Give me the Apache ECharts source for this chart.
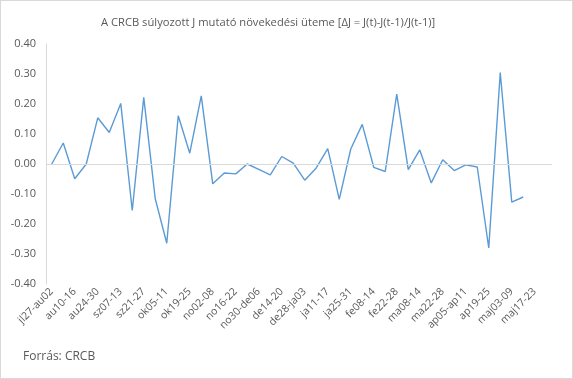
<!DOCTYPE html>
<html>
<head>
<meta charset="utf-8">
<script src="https://cdn.jsdelivr.net/npm/echarts@6/dist/echarts.min.js"></script>
<style>
html,body{margin:0;padding:0;background:#fff;}
#c{width:573px;height:379px;box-sizing:border-box;border:1px solid #d9d9d9;}
</style>
</head>
<body>
<div id="c"></div>
<script>
const titleText = 'A CRCB súlyozott J mutató növekedési üteme [ΔJ = J(t)-J(t-1)/J(t-1)]';
const sourceText = 'Forrás: CRCB';
const categories = ['jl27-au02','au03-09','au10-16','au17-23','au24-30','au31-sz06','sz07-13','sz14-20','sz21-27','sz28-ok04','ok05-11','ok12-18','ok19-25','ok26-no01','no02-08','no09-15','no16-22','no23-29','no30-de06','de07-13','de14-20','de21-27','de28-ja03','ja04-10','ja11-17','ja18-24','ja25-31','fe01-07','fe08-14','fe15-21','fe22-28','ma01-07','ma08-14','ma15-21','ma22-28','ma29-ap04','ap05-ap11','ap12-18','ap19-25','ap26-maj02','maj03-09','maj10-16','maj17-23','maj24-30'];
const values = [0.000,0.070,-0.049,0.000,0.154,0.105,0.202,-0.155,0.222,-0.116,-0.264,0.161,0.036,0.227,-0.066,-0.030,-0.033,0.000,-0.018,-0.036,0.025,0.003,-0.054,-0.013,0.051,-0.118,0.050,0.132,-0.011,-0.025,0.233,-0.019,0.047,-0.063,0.014,-0.022,-0.003,-0.010,-0.280,0.305,-0.127,-0.110,null,null];

const chart = echarts.init(document.getElementById('c'), null, {renderer:'canvas'});
const fontFam = '"Open Sans", "Noto Sans", sans-serif';
chart.setOption({
  animation:false,
  title:{text:titleText,left:95,top:11,textStyle:{fontFamily:fontFam,fontSize:11.2,fontWeight:'normal',color:'#595959'}},
  graphic:[{type:'text',left:22,top:350,style:{text:sourceText,font:'12px "Open Sans", sans-serif',fill:'#595959'}}],
  grid:{left:45,right:20,top:43,bottom:94,containLabel:false},
  xAxis:{type:'category',data:categories,boundaryGap:true,
    axisLine:{show:false,onZero:false},axisTick:{show:false},
    axisLabel:{interval:1,rotate:45,fontFamily:fontFam,fontSize:10.5,color:'#595959',margin:6}},
  yAxis:{type:'value',min:-0.4,max:0.4,interval:0.1,
    axisLine:{show:true,lineStyle:{color:'#d9d9d9',width:1}},axisTick:{show:false},
    splitLine:{show:false},
    axisLabel:{formatter:v=>v.toFixed(2),fontFamily:fontFam,fontSize:11,color:'#595959',margin:10}},
  series:[{type:'line',data:values,symbol:'none',lineStyle:{color:'#5B9BD5',width:1.4},
    markLine:{silent:true,symbol:'none',label:{show:false},lineStyle:{color:'#d9d9d9',type:'solid',width:1},data:[{yAxis:0}]}}]
});
</script>
</body>
</html>
